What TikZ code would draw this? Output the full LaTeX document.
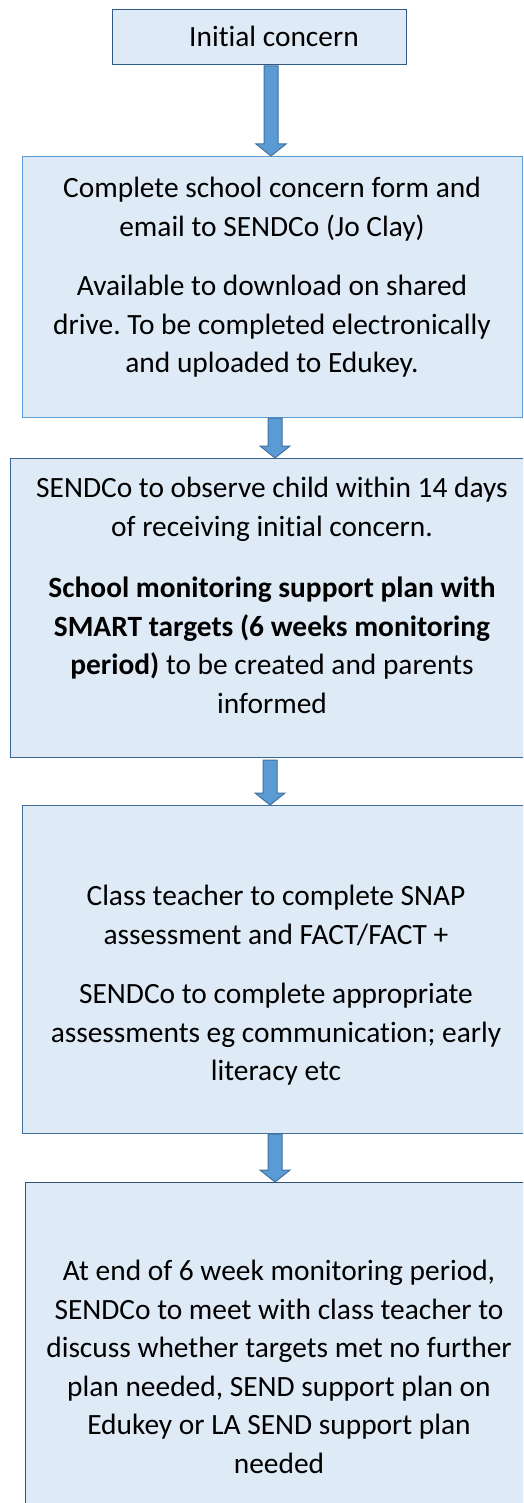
\documentclass[tikz,border=0pt]{standalone}
\usepackage{fontspec}
\setmainfont{Carlito}[Ligatures=NoCommon]
\frenchspacing
\usetikzlibrary{calc}
\definecolor{boxfill}{HTML}{DEEAF6}
\definecolor{edgeA}{HTML}{2E5A88}
\definecolor{edgeB}{HTML}{5B9BD5}
\definecolor{edgeC}{HTML}{3A6592}
\definecolor{edgeD}{HTML}{41719C}
\definecolor{edgeE}{HTML}{2F5376}
\definecolor{arrfill}{HTML}{5B9BD5}
\definecolor{arredge}{HTML}{41719C}
\tikzset{
  stepbox/.style={rectangle, fill=boxfill, line width=1.3pt, anchor=north west, inner sep=0pt},
  steptext/.style={align=center, inner sep=0pt, font=\fontsize{29.4}{38.5}\selectfont, text=black},
  barrow/.style={fill=arrfill, draw=arredge, line width=1pt, line join=miter}
}
\newcommand\blockarrow[2]{%
  \draw[barrow] let \p1=(#1), \p2=(#2) in
    (\x1-7pt,\y1) -- (\x1+7pt,\y1) -- (\x1+7pt,\y2+12pt) -- (\x1+15pt,\y2+12pt)
    -- (\x1,\y2) -- (\x1-15pt,\y2+12pt) -- (\x1-7pt,\y2+12pt) -- cycle;}
\begin{document}
\begin{tikzpicture}[x=1pt,y=-1pt]
\useasboundingbox (0,0) rectangle (523,1503);
\clip (0,0) rectangle (523,1503);
% boxes
\node[stepbox, draw=edgeA, minimum width=294pt, minimum height=55pt] (b1) at (112,9) {};
\node[stepbox, draw=edgeB, minimum width=500pt, minimum height=261pt] (b2) at (22,156) {};
\node[stepbox, draw=edgeC, minimum width=530pt, minimum height=299pt] (b3) at (10,458) {};
\node[stepbox, draw=edgeD, minimum width=530pt, minimum height=328pt] (b4) at (22,805) {};
\node[stepbox, draw=edgeE, minimum width=530pt, minimum height=360pt] (b5) at (25,1182) {};
% texts
\node[steptext, anchor=base] (t1) at (274,47) {Initial concern};
\node[steptext, anchor=north] (t2) at (272,177) {Complete school concern form and\\email to SENDCo (Jo Clay)\\[21pt]Available to download on shared\\drive. To be completed electronically\\and uploaded to Edukey.};
\node[steptext, anchor=north] (t3) at (272,477) {SENDCo to observe child within 14 days\\of receiving initial concern.\\[23pt]\textbf{School monitoring support plan with}\\\textbf{SMART targets (6 weeks monitoring}\\\textbf{period)} to be created and parents\\informed};
\node[steptext, anchor=north] (t4) at (276,885) {Class teacher to complete SNAP\\assessment and FACT/FACT +\\[21pt]SENDCo to complete appropriate\\assessments eg communication; early\\literacy etc};
\node[steptext, anchor=north] (t5) at (279,1260) {At end of 6 week monitoring period,\\SENDCo to meet with class teacher to\\discuss whether targets met no further\\plan needed, SEND support plan on\\Edukey or LA SEND support plan\\needed};
% arrows
\coordinate (a1s) at (271,66);  \coordinate (a1e) at (271,156);
\coordinate (a2s) at (275,418); \coordinate (a2e) at (275,458);
\coordinate (a3s) at (270,760); \coordinate (a3e) at (270,805);
\coordinate (a4s) at (275,1134); \coordinate (a4e) at (275,1182);
\blockarrow{a1s}{a1e}
\blockarrow{a2s}{a2e}
\blockarrow{a3s}{a3e}
\blockarrow{a4s}{a4e}
\end{tikzpicture}
\end{document}
